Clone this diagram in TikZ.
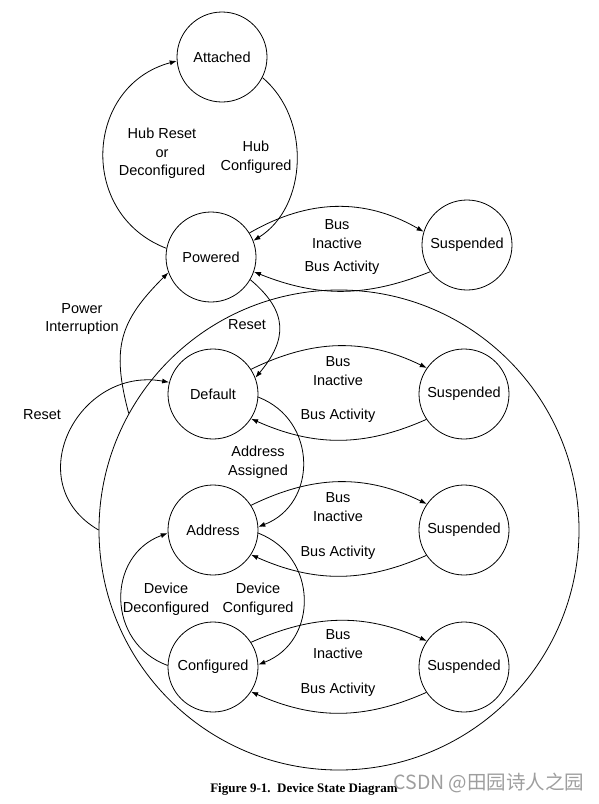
\documentclass[tikz,border=0pt]{standalone}
\usepackage{fontspec}
\setmainfont{Liberation Sans}
\newfontfamily\capfont{Liberation Serif}
\newfontfamily\cjk{Noto Sans CJK SC}
\usetikzlibrary{arrows.meta, positioning}

\begin{document}
\begin{tikzpicture}[
    x=1pt, y=1pt,
    font=\fontsize{14.5}{18.5}\selectfont,
    state/.style={circle, draw, line width=0.8pt, minimum size=90pt, inner sep=0pt},
    trans/.style={-{Latex[length=7pt,width=5pt]}, line width=0.8pt},
    lbl/.style={align=center, inner sep=0pt},
]
\useasboundingbox (0,0) rectangle (599,-804);

% states
\node[state] (attached) at (222,-57) {Attached};
\node[state] (powered) at (211,-257) {Powered};
\node[state] (suspP) at (467,-245) {Suspended};
\node[state] (default) at (213,-394) {Default};
\node[state] (suspD) at (464,-394) {Suspended};
\node[state] (address) at (213,-530) {Address};
\node[state] (suspA) at (464,-530) {Suspended};
\node[state] (configured) at (213,-667) {Configured};
\node[state] (suspC) at (464,-667) {Suspended};

% big region around the powered-up states
\node[circle, draw, line width=0.8pt, minimum size=480pt, inner sep=0pt] (region) at (339,-530) {};

% hub loop
\draw[trans] (powered.169) to[out=159, in=195, looseness=1.3] (attached.185);
\draw[trans] (attached.-27) to[out=-40, in=32] (powered.21);
\node[lbl] (hubreset) at (162,-153.5) {Hub Reset\\or\\Deconfigured};
\node[lbl] (hubconf) at (256,-157) {Hub\\Configured};

% suspend / resume
\draw[trans] (powered.32) to[out=30, in=150] (suspP.163);
\draw[trans] (suspP.216) to[out=202, in=-22] (powered.-19);
\node[lbl] (inactP) at (337,-234) {Bus\\Inactive};
\node[lbl] (actP) at (342,-268) {Bus Activity};

\draw[trans] (default.33) to[out=26, in=154] (suspD.145);
\draw[trans] (suspD.214) to[out=204, in=-24] (default.-33);
\node[lbl] (inactD) at (338,-371) {Bus\\Inactive};
\node[lbl] (actD) at (338,-416) {Bus Activity};

\draw[trans] (address.33) to[out=26, in=154] (suspA.145);
\draw[trans] (suspA.214) to[out=204, in=-24] (address.-33);
\node[lbl] (inactA) at (338,-507) {Bus\\Inactive};
\node[lbl] (actA) at (338,-553) {Bus Activity};

\draw[trans] (configured.33) to[out=24, in=156] (suspC.145);
\draw[trans] (suspC.214) to[out=204, in=-24] (configured.-33);
\node[lbl] (inactC) at (338,-644) {Bus\\Inactive};
\node[lbl] (actC) at (338,-690) {Bus Activity};

% resets
\draw[trans] (powered.-30) to[out=-40, in=50, looseness=1.3] (default.21);
\node[lbl] (resetP) at (247,-325) {Reset};
\draw[trans] (region.151) to[out=105, in=225, looseness=1.2] (powered.200);
\node[lbl] (powerint) at (82,-319) {Power\\Interruption};
\draw[trans] (region.180) to[out=150, in=170, looseness=1.45] (default.165);
\node[lbl] (resetL) at (42,-415) {Reset};

% addressing and configuration
\draw[trans] (default.-4) to[out=-21, in=21, looseness=1.26] (address.4);
\node[lbl] (addrasg) at (258,-462) {Address\\Assigned};
\draw[trans] (address.-4) to[out=-21, in=21, looseness=1.26] (configured.3);
\node[lbl] (devconf) at (258,-599) {Device\\Configured};
\draw[trans] (configured.178) to[out=160, in=200, looseness=1.27] (address.184);
\node[lbl] (devdeconf) at (166,-599) {Device\\Deconfigured};

% caption
\node[lbl, font=\capfont\bfseries\fontsize{13}{15}\selectfont] (caption) at (304,-789) {Figure 9-1.\ \ Device State Diagram};
\node[lbl, text=black!38, font=\cjk\fontsize{19.5}{21}\selectfont] (mark) at (489,-783) {CSDN @田园诗人之园};
\end{tikzpicture}
\end{document}
